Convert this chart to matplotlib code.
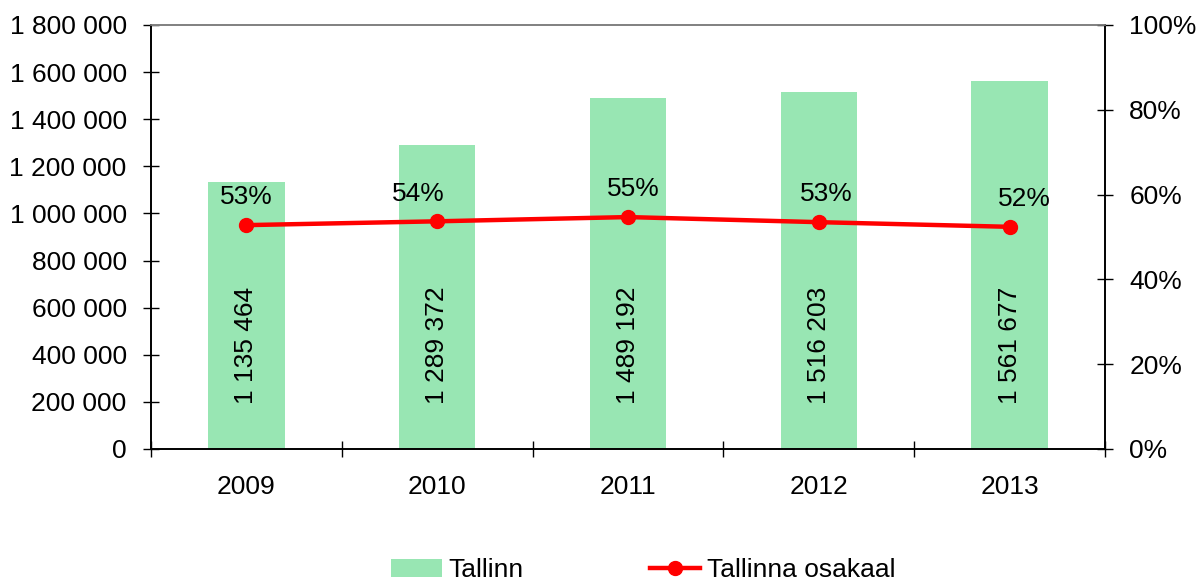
import matplotlib.pyplot as plt
from matplotlib.ticker import FuncFormatter, FixedLocator

plt.rcParams['font.family'] = ['Liberation Sans', 'DejaVu Sans']

years = ['2009', '2010', '2011', '2012', '2013']
tallinn = [1135464, 1289372, 1489192, 1516203, 1561677]
osakaal = [52.8, 53.7, 54.7, 53.5, 52.4]  # percent
pct_labels = ['53%', '54%', '55%', '53%', '52%']
label_dx = [0, -19, 5, 8, 15]  # label nudges in px, as in the original

fig = plt.figure(figsize=(11.98, 5.84), dpi=100)
ax = fig.add_axes([151/1198, 1-449/584, (1105-151)/1198, (449-25)/584])
ax2 = ax.twinx()

x = list(range(len(years)))
bars = ax.bar(x, tallinn, width=0.4, color='#98E6B3', zorder=1)
for xi, v in zip(x, tallinn):
    s = f'{v:,}'.replace(',', ' ')
    ax.text(xi, 440000, s, rotation=90, ha='center', va='center', fontsize=19)

ax.set_xlim(-0.5, 4.5)
ax.set_ylim(0, 1800000)
ax.set_yticks(range(0, 1800001, 200000))
ax.yaxis.set_major_formatter(FuncFormatter(lambda v, p: f'{int(v):,}'.replace(',', ' ')))
ax.set_xticks(x)
ax.set_xticklabels(years)
ax.xaxis.set_minor_locator(FixedLocator([-0.5, 0.5, 1.5, 2.5, 3.5, 4.5]))
ax.tick_params(axis='x', which='major', length=0, labelsize=19, pad=19)
ax.tick_params(axis='x', which='minor', direction='inout', length=11, width=1)
ax.tick_params(axis='y', direction='inout', length=11, width=1, labelsize=19, pad=12)

line, = ax2.plot(x, osakaal, color='#FF0000', lw=3.2, marker='o', markersize=10, zorder=3)
for xi, v, lab, dx in zip(x, osakaal, pct_labels, label_dx):
    ax2.annotate(lab, (xi, v), xytext=(dx * 0.72, 20), textcoords='offset points',
                 ha='center', va='center', fontsize=19)
ax2.set_ylim(0, 100)
ax2.set_yticks(range(0, 101, 20))
ax2.yaxis.set_major_formatter(FuncFormatter(lambda v, p: f'{int(v)}%'))
ax2.tick_params(axis='y', direction='inout', length=11, width=1, labelsize=19, pad=12)

for a in (ax, ax2):
    a.spines['top'].set_color('#808080')
    a.spines['left'].set_color('black')
    a.spines['right'].set_color('black')
    a.spines['bottom'].set_color('black')
    for s in a.spines.values():
        s.set_linewidth(1.2)

fig.legend([bars, line], ['Tallinn', 'Tallinna osakaal'], loc='center',
           bbox_to_anchor=(0.537, 1-570/584), ncol=2, frameon=False, fontsize=19,
           handlelength=1.9, columnspacing=4.8, handletextpad=0.25)

fig.savefig('out.png', dpi=100)
